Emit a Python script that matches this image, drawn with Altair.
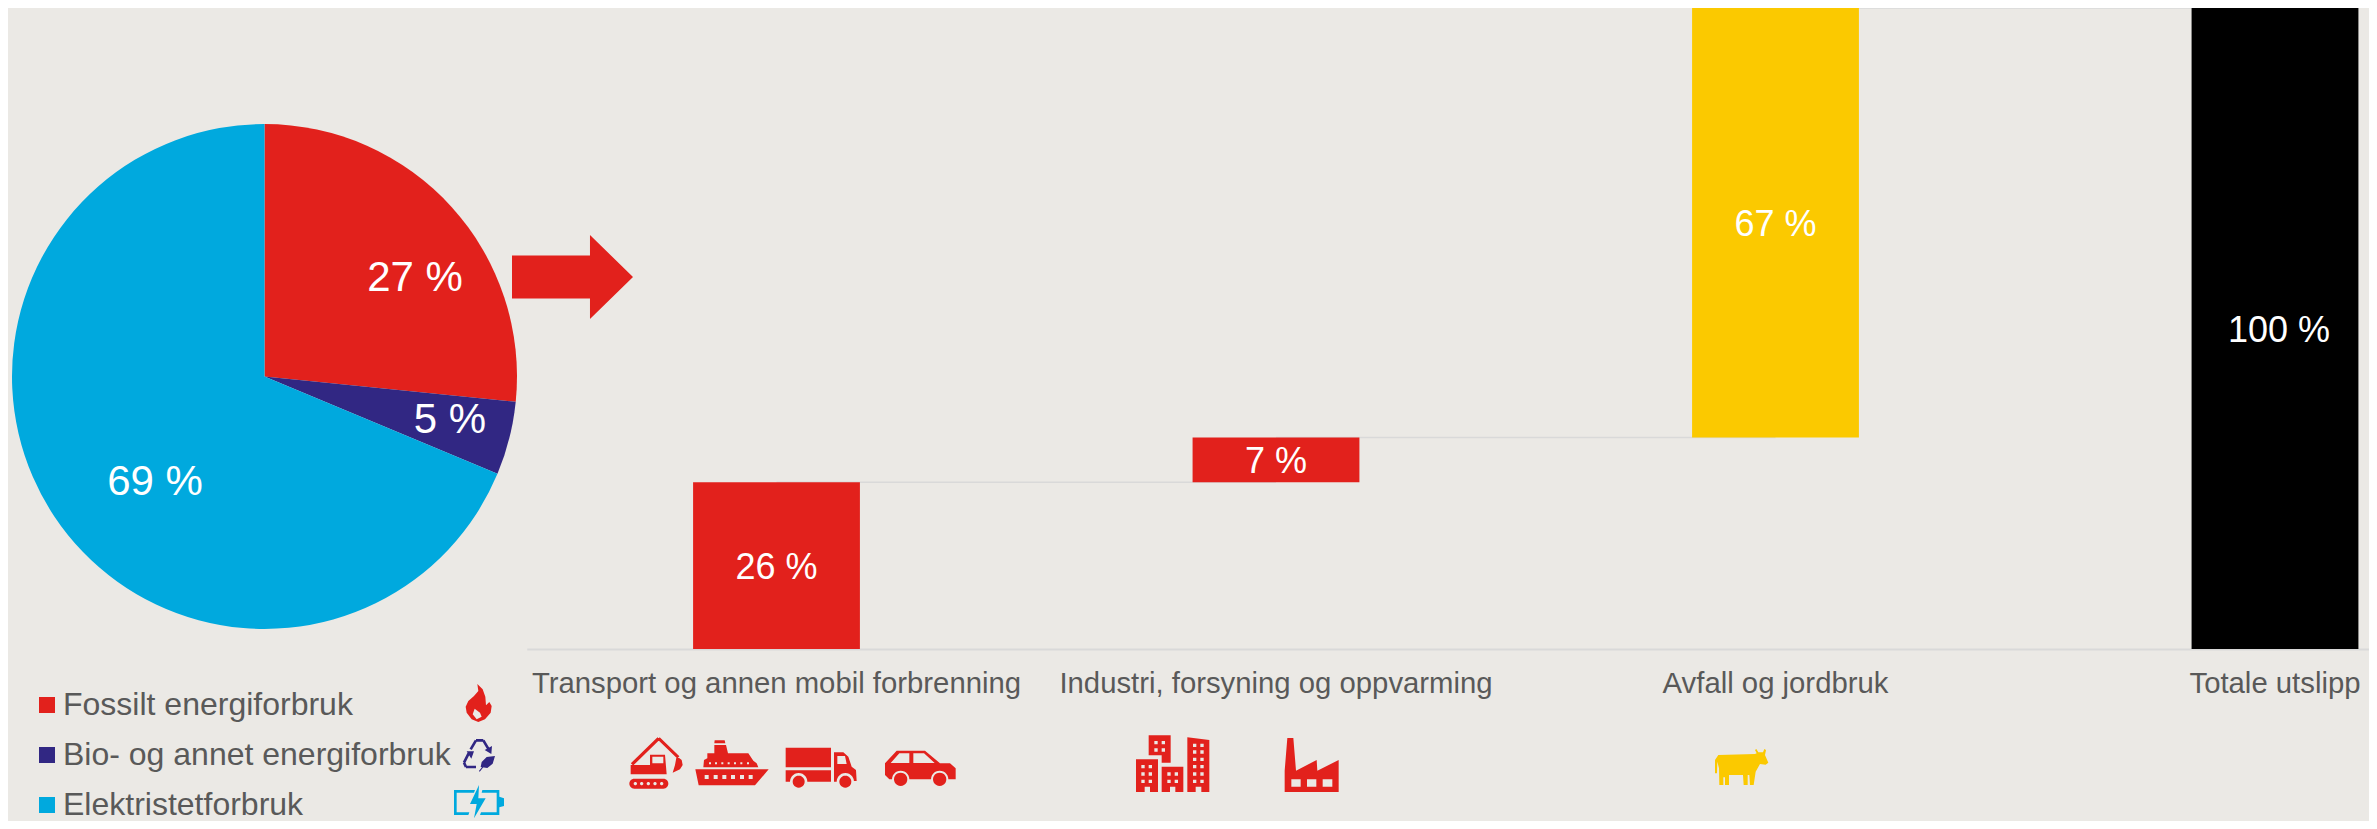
import math
import altair as alt
import pandas as pd

# ---------- data ----------
pie_names = ["Fossilt energiforbruk", "Bio- og annet energiforbruk", "Elektristetforbruk"]
pie_shares = [26.6, 4.7, 68.7]
pie_labels = ["27 %", "5 %", "69 %"]
pie_colors = ["#E2211C", "#312783", "#00A9DE"]

bar_names = ["Transport og annen mobil forbrenning", "Industri, forsyning og oppvarming",
             "Avfall og jordbruk", "Totale utslipp"]
bar_starts = [0, 26, 33, 0]
bar_ends = [26, 33, 100, 100]
bar_labels = ["26 %", "7 %", "67 %", "100 %"]
bar_colors = ["#E2211C", "#E2211C", "#FBC900", "#000000"]

BG = "#EBE9E5"
GREY = "#595959"
FONT = "Liberation Sans"
RED, PURPLE, CYAN, YELLOW = "#E2211C", "#312783", "#00A9DE", "#FBC900"
M = 8  # page margin


# ---------- icon helpers (glyph outlines only) ----------
def rect(x0, y0, x1, y1):
    return [(x0, y0), (x1, y0), (x1, y1), (x0, y1)]


def sq(cx, cy, h):
    return rect(cx - h, cy - h, cx + h, cy + h)


def arc(cx, cy, r, a0, a1, n=14):
    return [(cx + r * math.cos(math.radians(a0 + (a1 - a0) * i / n)),
             cy - r * math.sin(math.radians(a0 + (a1 - a0) * i / n))) for i in range(n + 1)]


def circle(cx, cy, r):
    return arc(cx, cy, r, 0, 345, 23)


def stroke(pts, w):
    out = []
    for (x0, y0), (x1, y1) in zip(pts, pts[1:]):
        d = math.hypot(x1 - x0, y1 - y0)
        nx, ny = -(y1 - y0) / d * w / 2, (x1 - x0) / d * w / 2
        out.append([(x0 + nx, y0 + ny), (x1 + nx, y1 + ny), (x1 - nx, y1 - ny), (x0 - nx, y0 - ny)])
    return out


def area(p):
    return sum(a[0] * b[1] - b[0] * a[1] for a, b in zip(p, p[1:] + p[:1]))


def icon(origin, solids, holes, color, z=3.0):
    allp = [q for p in solids for q in p]
    x0, x1 = min(q[0] for q in allp), max(q[0] for q in allp)
    y0, y1 = min(q[1] for q in allp), max(q[1] for q in allp)
    cx, cy = (x0 + x1) / 2, (y0 + y1) / 2
    s = max(x1 - x0, y1 - y0) / 2
    parts = []
    for group, sign in ((solids, 1), (holes, -1)):
        for p in group:
            p = p if area(p) * sign > 0 else p[::-1]
            parts.append("M" + "L".join(f"{(a - cx) / s:.4f},{(b - cy) / s:.4f}" for a, b in p) + "Z")
    return dict(path="".join(parts), x=origin[0] + cx / z - M, y=origin[1] + cy / z - M,
                size=(2 * s / z) ** 2, color=color)


icons = []

# excavator
icons.append(icon((620, 730), [
    *stroke([(36, 103), (116, 25)], 10), *stroke([(116, 25), (175, 82)], 9),
    [(170, 78), (185, 90), (188, 105), (180, 118), (158, 128), (165, 105)],
    [(32, 105), (90, 105), (90, 74), (135, 74), (140, 133), (32, 133)],
    [*arc(130, 161, 15, 90, -90), *arc(43, 161, 15, 270, 90)],
], [rect(97, 80, 130, 100), *[circle(x, 161, 5) for x in (46, 65, 85, 105, 125)]], RED))

# ship
icons.append(icon((620, 730), [
    [(284, 31), (314, 31), (316, 40), (283, 40)],
    [(283, 45), (318, 45), (324, 70), (385, 70), (400, 92), (410, 100), (415, 112), (250, 112),
     (252, 90), (262, 85), (262, 70), (283, 70)],
    [(226, 118), (446, 118), (405, 166), (236, 166)],
], [*[sq(x, 100, 3) for x in (270, 288, 307, 326, 345, 364, 384)],
    *[sq(x, 141, 6) for x in (260, 287, 313, 339, 366, 392)]], RED))

# truck
icons.append(icon((780, 730), [
    rect(17, 53, 153, 112),
    [(17, 121), (153, 121), (153, 155), (82, 155), *arc(56, 155, 26, 0, 180), (17, 155)],
    [(162, 67), (190, 67), (205, 80), (215, 110), (228, 120), (230, 153), (222, 153),
     *arc(196, 155, 26, 0, 180), (162, 155)],
    circle(56, 155, 18), circle(196, 155, 18),
], [[(172, 78), (195, 78), (200, 102), (172, 102)]], RED))

# car
icons.append(icon((780, 730), [
    [(315, 100), (350, 62), (435, 62), (480, 100), (510, 100), (527, 115), (527, 148), (505, 148),
     *arc(479, 148, 26, 0, 180), (388, 148), *arc(362, 148, 26, 0, 180), (328, 148), (315, 135)],
    circle(362, 148, 20), circle(479, 148, 20),
], [[(332, 99), (358, 70), (388, 70), (388, 99)], [(400, 70), (432, 70), (464, 99), (400, 99)]], RED))

# buildings
icons.append(icon((1130, 730), [
    [(18, 88), (84, 88), (84, 186), (60, 186), (60, 170), (44, 170), (44, 186), (18, 186)],
    [(56, 16), (122, 16), (122, 98), (95, 98), (95, 76), (56, 76)],
    [(95, 110), (160, 110), (160, 186), (136, 186), (136, 170), (120, 170), (120, 186), (95, 186)],
    [(172, 22), (238, 30), (238, 186), (214, 186), (214, 170), (197, 170), (197, 186), (172, 186)],
], [*[sq(x, y, 5) for x in (39, 61) for y in (110, 132, 154)],
    *[sq(x, y, 5) for x in (78, 100) for y in (38, 60)],
    *[sq(x, y, 5) for x in (117, 139) for y in (132, 154)],
    *[sq(x, y, 5) for x in (194, 216) for y in (46, 66, 88, 110, 132, 154)]], RED))

# factory
icons.append(icon((1130, 730), [
    [(472, 24), (490, 24), (498, 122), (560, 90), (562, 122), (626, 90), (626, 186), (464, 186), (464, 122)],
], [rect(484, 148, 512, 170), rect(531, 148, 559, 170), rect(578, 148, 607, 170)], RED))

# cow
icons.append(icon((1705, 740), [
    [(30, 100), (30, 60), (40, 45), (150, 42), (155, 40), (150, 30), (154, 27), (160, 37), (174, 37),
     (178, 27), (183, 30), (180, 45), (190, 68), (182, 74), (165, 72), (152, 95), (146, 135), (135, 135),
     (133, 105), (128, 105), (128, 135), (116, 135), (114, 105), (72, 105), (72, 135), (60, 135),
     (60, 112), (55, 112), (55, 135), (43, 135), (42, 85), (37, 65), (36, 100)],
], [], YELLOW))

# flame (nudged up with the legend rows, which must fit the page)
icons.append(icon((450, 676), [
    [(82, 24), (98, 40), (106, 62), (108, 88), (118, 78), (125, 90), (122, 110), (105, 130), (85, 138),
     (65, 130), (50, 110), (47, 92), (55, 75), (72, 60), (85, 45)],
], [[(74, 98), (90, 110), (95, 122), (80, 130), (68, 115)]], RED))

# recycling symbol with leaf
icons.append(icon((450, 672), [
    *stroke([(62, 232), (78, 205), (100, 205), (116, 232)], 8),
    [(124, 246), (104, 234), (126, 222)],
    *stroke([(56, 244), (42, 272), (48, 285), (78, 285)], 8),
    [(72, 238), (50, 238), (64, 260)],
    [(135, 252), (110, 255), (95, 270), (92, 285), (112, 288), (128, 275)],
    *stroke([(88, 298), (112, 268)], 3),
], [], PURPLE))

# battery with bolt
icons.append(icon((450, 670), [
    [(12, 360), (75, 360), (72, 368), (20, 368), (20, 427), (58, 427), (55, 435), (12, 435)],
    [(97, 360), (148, 360), (148, 435), (90, 435), (93, 427), (140, 427), (140, 368), (95, 368)],
    [(148, 380), (162, 385), (162, 408), (148, 412)],
    [(87, 345), (60, 402), (80, 402), (72, 445), (107, 385), (85, 385)],
], [], CYAN))

# arrow between pie and waterfall
arrow_path = "M-1,-.355L.289,-.355L.289,-.694L1,0L.289,.694L.289,.355L-1,.355Z"
icons.append(dict(path=arrow_path, x=572.5 - M, y=277 - M, size=121 ** 2, color=RED))

# ---------- tables ----------
pie_df = pd.DataFrame({"name": pie_names, "share": pie_shares, "order": range(3)})
bar_df = pd.DataFrame({"name": bar_names, "start": bar_starts, "end": bar_ends,
                       "label": bar_labels, "color": bar_colors})
bar_df["mid"] = (bar_df["start"] + bar_df["end"]) / 2
link_df = pd.DataFrame({"name": bar_names[:-1], "b": bar_names[1:], "level": bar_ends[:-1]})
one = pd.DataFrame({"k": [0]})

x_scale = alt.Scale(domain=bar_names, range=[518.75, 2516.75], paddingInner=0.666, paddingOuter=0.333, round=False)
y_scale = alt.Scale(domain=[0, 100], nice=False)
x_axis = alt.Axis(labelFont=FONT, labelFontSize=29.3, labelColor=GREY, labelAngle=0, labelPadding=20,
                  labelLimit=900, labelOverlap=False, ticks=False, domainColor="#D9D9D9", domainWidth=2,
                  grid=False, title=None)
X = alt.X("name:N", scale=x_scale, sort=None, axis=x_axis)

links = alt.Chart(link_df).mark_rule(color="#D9D9D9", strokeWidth=1.5).encode(
    x=X, x2="b:N", y=alt.Y("level:Q", scale=y_scale, axis=None, title=None))

bars = alt.Chart(bar_df).mark_bar(strokeWidth=0).encode(
    x=X, y=alt.Y("end:Q", scale=y_scale, axis=None, title=None), y2="start:Q",
    fill=alt.Fill("color:N", scale=None, legend=None))


def bar_text(test, dx):
    return alt.Chart(bar_df).transform_filter(test).mark_text(
        font=FONT, fontSize=36, color="white", baseline="middle", dx=dx, dy=2).encode(
        x=X, y=alt.Y("mid:Q", scale=y_scale, axis=None, title=None), text="label:N")


bar_text_main = bar_text("datum.end - datum.start < 100", 0)
bar_text_total = bar_text("datum.end - datum.start >= 100", 4)

pie = alt.Chart(pie_df).mark_arc(radius=252.5, strokeWidth=0).encode(
    theta=alt.Theta("share:Q", stack=True),
    order=alt.Order("order:Q"),
    color=alt.Color("name:N", scale=alt.Scale(domain=pie_names, range=pie_colors), sort=None,
                    legend=alt.Legend(title=None, orient="none", legendX=23, legendY=681, padding=0,
                                      symbolType="square", symbolSize=256, symbolStrokeWidth=0, symbolOpacity=1,
                                      labelFont=FONT, labelFontSize=32, labelColor=GREY, labelOffset=0,
                                      labelLimit=600, rowPadding=18, columns=1)),
    x=alt.value(264.5 - M), y=alt.value(376.5 - M))

label_pos = [(415, 278), (450, 420), (155, 481.5)]
pie_text = [alt.Chart(one).mark_text(text=t, font=FONT, fontSize=42, color="white", baseline="middle").encode(
    x=alt.value(px - M), y=alt.value(py - M)) for t, (px, py) in zip(pie_labels, label_pos)]

glyphs = [alt.Chart(one).mark_point(shape=g["path"], size=g["size"], filled=True, fill=g["color"], opacity=1,
                                    strokeWidth=0).encode(x=alt.value(g["x"]), y=alt.value(g["y"]))
          for g in icons]

chart = alt.layer(links, bars, bar_text_main, bar_text_total, pie, *pie_text, *glyphs).resolve_scale(
    color="independent", fill="independent", theta="independent"
).properties(
    width=2361, height=641, background=BG,
    padding={"left": 0, "top": 0, "right": 0, "bottom": 172},
    autosize=alt.AutoSizeParams(type="none"),
).configure_view(stroke=None)

chart.save("out.html", embed_options={"renderer": "svg", "actions": False})
